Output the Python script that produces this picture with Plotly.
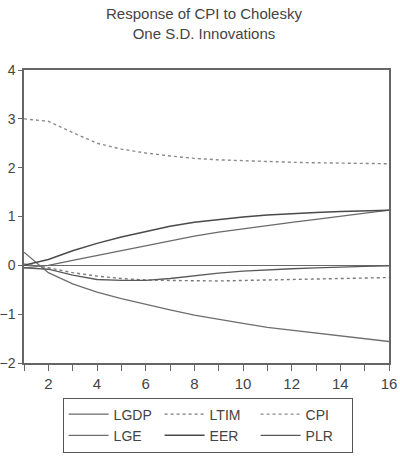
import plotly.graph_objects as go

periods = list(range(1, 17))
lgdp = [-0.05, 0.00, 0.10, 0.20, 0.31, 0.41, 0.51, 0.60, 0.68, 0.75, 0.82, 0.88, 0.94, 1.00, 1.07, 1.13]
ltim = [0.03, -0.05, -0.15, -0.22, -0.27, -0.30, -0.31, -0.32, -0.32, -0.31, -0.30, -0.29, -0.28, -0.27, -0.26, -0.25]
cpi = [3.00, 2.95, 2.72, 2.50, 2.38, 2.30, 2.24, 2.19, 2.16, 2.14, 2.12, 2.11, 2.10, 2.09, 2.09, 2.08]
lge = [0.27, -0.15, -0.38, -0.55, -0.68, -0.80, -0.91, -1.02, -1.11, -1.19, -1.27, -1.33, -1.39, -1.45, -1.51, -1.56]
eer = [0.00, 0.12, 0.30, 0.45, 0.58, 0.69, 0.80, 0.88, 0.94, 0.99, 1.03, 1.06, 1.08, 1.10, 1.12, 1.13]
plr = [-0.05, -0.08, -0.20, -0.29, -0.31, -0.31, -0.27, -0.21, -0.16, -0.12, -0.09, -0.07, -0.05, -0.03, -0.02, -0.01]

series = [
    ("LGDP", lgdp, "#6a6a6a", "solid", 1.3),
    ("LTIM", ltim, "#7a7a7a", "dot", 1.4),
    ("CPI", cpi, "#8a8a8a", "dot", 1.4),
    ("LGE", lge, "#6e6e6e", "solid", 1.3),
    ("EER", eer, "#4a4a4a", "solid", 1.5),
    ("PLR", plr, "#5a5a5a", "solid", 1.3),
]

FONT = "Liberation Sans, Arial, sans-serif"

fig = go.Figure()
for name, vals, color, dash, w in series:
    fig.add_trace(go.Scatter(x=periods, y=vals, mode="lines", name=name,
                             line=dict(color=color, dash=dash, width=w)))

axis_common = dict(showline=True, linecolor="#666666", linewidth=1.5, mirror=True,
                   ticks="outside", tickcolor="#666666", tickwidth=1,
                   showgrid=False)

fig.update_layout(
    width=400, height=456,
    margin=dict(l=24, r=11, t=70, b=93, autoexpand=False),
    paper_bgcolor="white", plot_bgcolor="white",
    title=dict(text="Response of CPI to Cholesky<br>One S.D. Innovations",
               x=0.51, xanchor="center", yref="container", y=0.958, yanchor="bottom",
               font=dict(family=FONT, size=15, color="#444444")),
    xaxis=dict(range=[1, 16], tick0=2, dtick=2, zeroline=False, ticklen=6,
               tickfont=dict(family=FONT, size=15, color="#444444"),
               minor=dict(dtick=1, tick0=1, ticks="outside", ticklen=6, tickcolor="#666666"),
               **axis_common),
    yaxis=dict(range=[-2, 4], dtick=1, zeroline=True, zerolinecolor="#6a6a6a", zerolinewidth=1.3,
               ticklen=4, tickfont=dict(family=FONT, size=14, color="#444444"),
               **axis_common),
    legend=dict(orientation="h", x=0.503, xanchor="center", y=-0.118, yanchor="top",
                bordercolor="#555555", borderwidth=1, bgcolor="white",
                entrywidth=41, entrywidthmode="pixels", itemwidth=40,
                font=dict(family=FONT, size=14, color="#444444"),
                tracegroupgap=0),
    showlegend=True,
)

fig.write_html("out.html")
